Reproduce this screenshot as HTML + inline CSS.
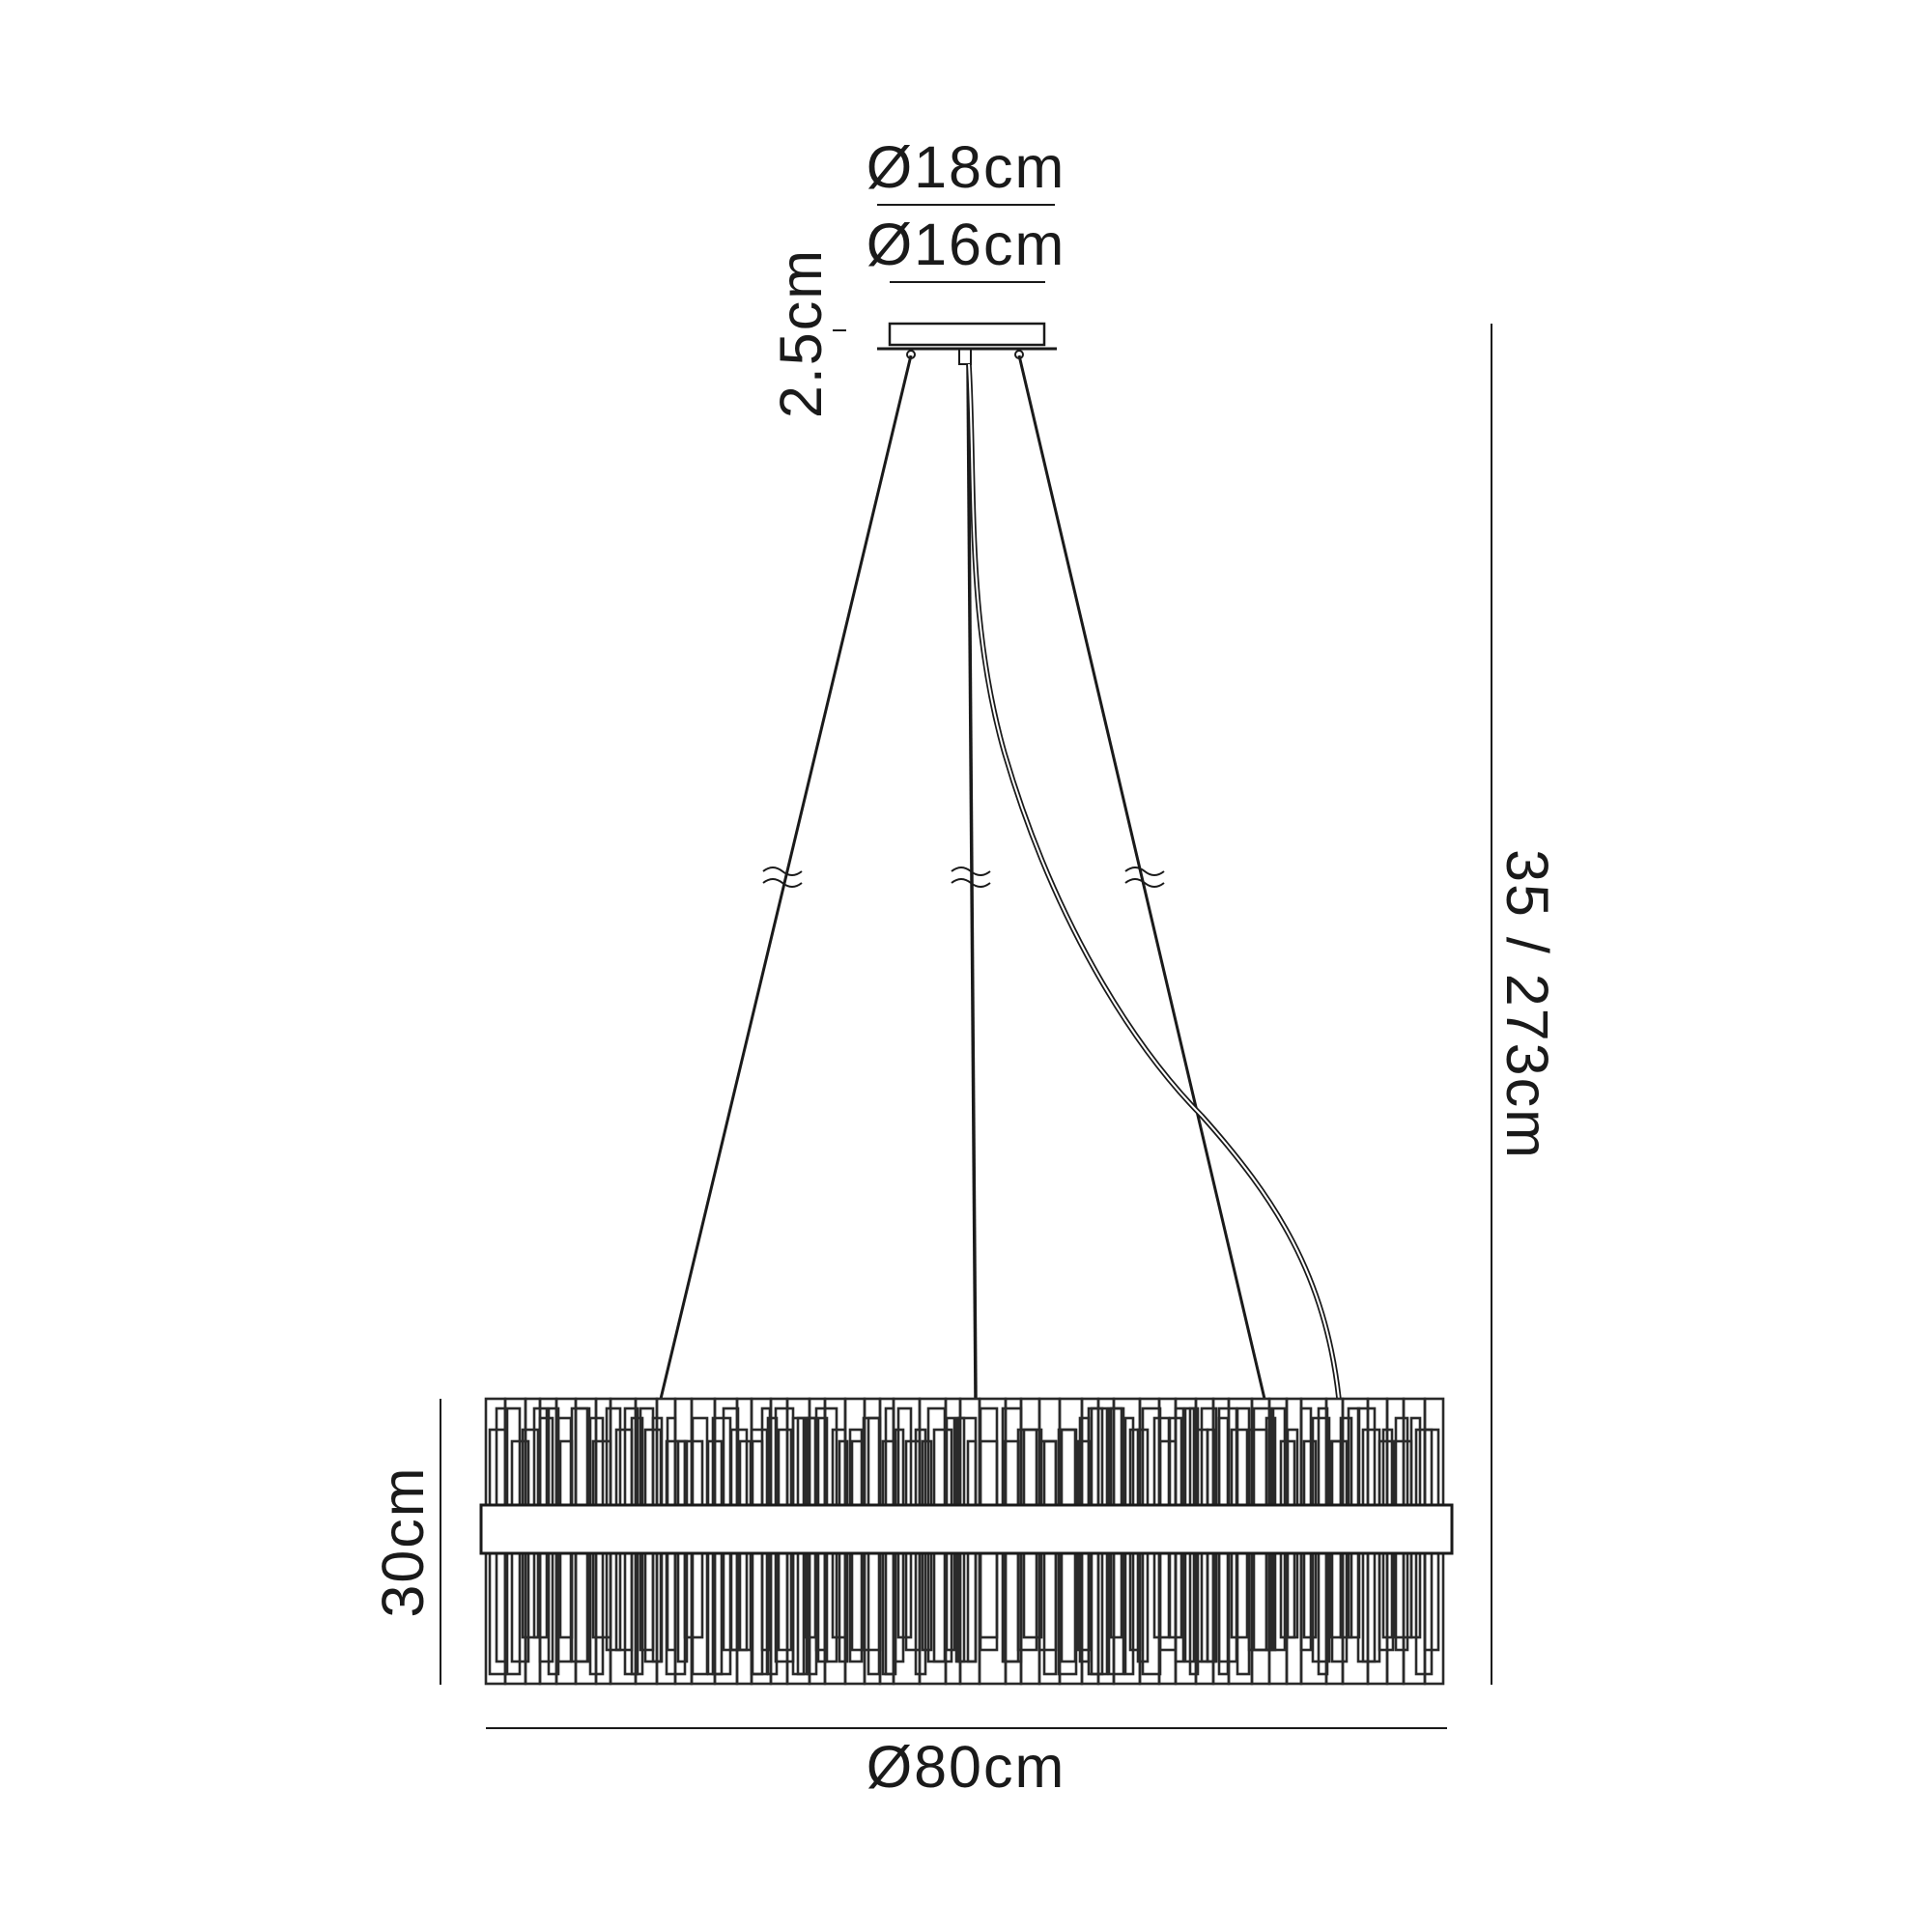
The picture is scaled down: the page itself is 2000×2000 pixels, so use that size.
<!DOCTYPE html>
<html><head><meta charset="utf-8"><style>
html,body{margin:0;padding:0;background:#fff}
svg{display:block}
text{font-family:"Liberation Sans",sans-serif;font-size:61px;fill:#1a1a1a;letter-spacing:2px}
</style></head><body>
<svg id="s" width="2000" height="2000" viewBox="0 0 2000 2000" xmlns="http://www.w3.org/2000/svg">
<g stroke="#1a1a1a" fill="none" stroke-width="2">
<line x1="908" y1="212" x2="1092" y2="212"/>
<line x1="921" y1="292" x2="1082" y2="292"/>
<rect x="921" y="335" width="160" height="22" stroke-width="2.5"/>
<line x1="908" y1="361" x2="1094" y2="361" stroke-width="3"/>
<line x1="862" y1="342" x2="876" y2="342"/>
<circle cx="943" cy="367" r="4"/>
<circle cx="1055" cy="367" r="4"/>
<rect x="993" y="361" width="12" height="16"/>
<line x1="943" y1="368" x2="684" y2="1448" stroke-width="3"/>
<line x1="1055" y1="368" x2="1309" y2="1448" stroke-width="3"/>
<line x1="1002" y1="377" x2="1010" y2="1448" stroke-width="3.5"/>
<path d="M1003,377 C1010,500 1000,640 1040,780 C1090,950 1170,1080 1244,1155 C1320,1240 1372,1320 1386,1448" stroke-width="5.5"/>
<path d="M1003,377 C1010,500 1000,640 1040,780 C1090,950 1170,1080 1244,1155 C1320,1240 1372,1320 1386,1448" stroke="#fff" stroke-width="2"/>
<g stroke-width="2">
<path d="M790,902 q10,-8 20,0 t20,0"/><path d="M790,914 q10,-8 20,0 t20,0"/>
<path d="M985,902 q10,-8 20,0 t20,0"/><path d="M985,914 q10,-8 20,0 t20,0"/>
<path d="M1165,902 q10,-8 20,0 t20,0"/><path d="M1165,914 q10,-8 20,0 t20,0"/>
</g>
<line x1="1544" y1="335" x2="1544" y2="1744"/>
<line x1="456" y1="1448" x2="456" y2="1744"/>
<line x1="503" y1="1789" x2="1498" y2="1789"/>
<g id="rods" stroke-width="2.6" stroke="#2a2a2a"></g>
<rect x="498" y="1558" width="1005" height="50" stroke-width="3" fill="#fff"/>
</g>
<text x="1000" y="194" text-anchor="middle">Ø18cm</text>
<text x="1000" y="274" text-anchor="middle">Ø16cm</text>
<text x="1000" y="1850" text-anchor="middle">Ø80cm</text>
<text transform="translate(850,345) rotate(-90)" text-anchor="middle">2.5cm</text>
<text transform="translate(438,1596) rotate(-90)" text-anchor="middle">30cm</text>
<text transform="translate(1560,1040) rotate(90)" text-anchor="middle">35 / 273cm</text>
</svg>
<script>
var g=document.getElementById('rods'),ns='http://www.w3.org/2000/svg',seed=7;
function r(){seed=(seed*9301+49297)%233280;return seed/233280;}
function rect(x,y,w,h){var e=document.createElementNS(ns,'rect');e.setAttribute('x',x);e.setAttribute('y',y);e.setAttribute('width',w);e.setAttribute('height',h);g.appendChild(e);}
// outer layer: flat top, flat bottom
var x=503;
while(x<1490){var w=14+Math.floor(r()*14);if(x+w>1498)w=1498-x;
 rect(x,1448,w,110);rect(x,1608,w,135);x+=w;}
// inner layers
var tops=[1458,1468,1480,1492],bots=[1733,1720,1708,1695];
for(var pass=0;pass<2;pass++){
 x=507+pass*7;
 while(x<1488){var w=8+Math.floor(r()*12);if(x+w>1494)w=1494-x;
  var t=tops[Math.floor(r()*4)];rect(x,t,w,1558-t);
  var b=bots[Math.floor(r()*4)];rect(x,1608,w,b-1608);
  x+=w+Math.floor(r()*8);}
}
</script>
</body></html>
